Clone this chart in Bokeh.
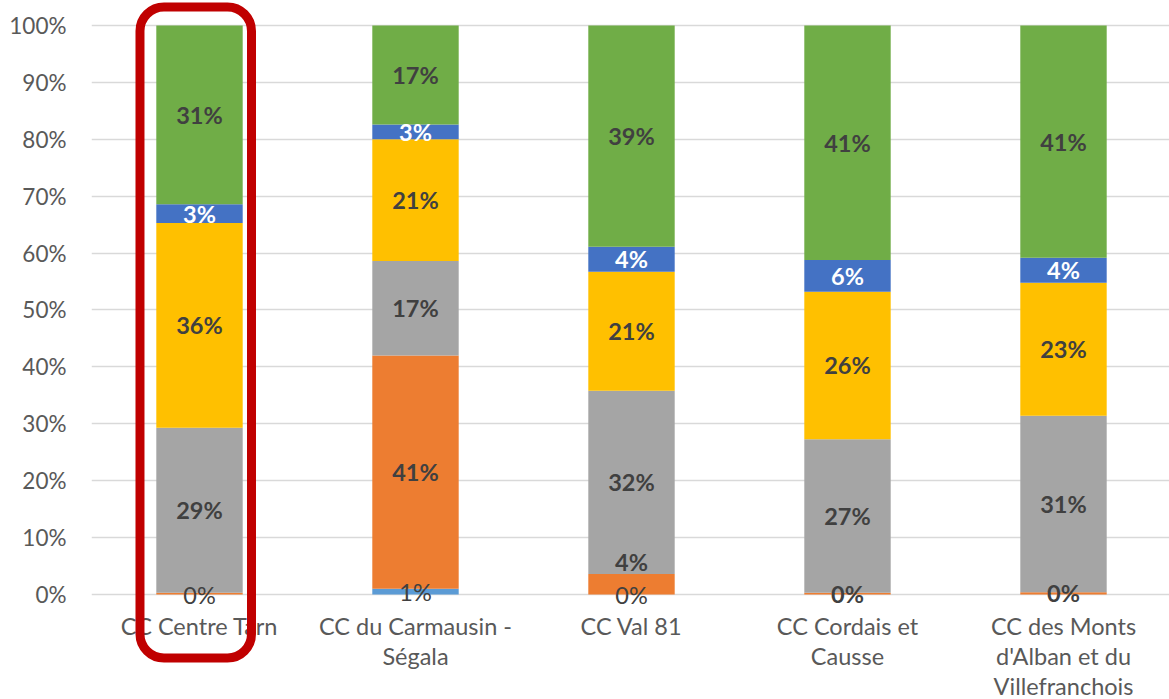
from bokeh.plotting import figure
from bokeh.models import ColumnDataSource, Range1d, FixedTicker, BoxAnnotation, PrintfTickFormatter
from bokeh.core.properties import value
from bokeh.embed import file_html
from bokeh.resources import INLINE

# ---------------- data ----------------
categories = [
    "CC Centre Tarn",
    "CC du Carmausin -\nSégala",
    "CC Val 81",
    "CC Cordais et\nCausse",
    "CC des Monts\nd'Alban et du\nVillefranchois",
]
series_names = ["Série 1", "Série 2", "Série 3", "Série 4", "Série 5", "Série 6"]
light_blue = [0.0, 1.0, 0.0, 0.0, 0.0]
orange = [0.3, 41.0, 3.6, 0.3, 0.4]
gray = [29.0, 16.6, 32.2, 27.0, 31.0]
yellow = [36.0, 21.4, 20.9, 25.9, 23.4]
blue = [3.3, 2.6, 4.4, 5.6, 4.4]
green = [31.4, 17.4, 38.9, 41.2, 40.8]
light_blue_labels = ["0%", "1%", "0%", "", ""]
orange_labels = ["", "41%", "4%", "0%", "0%"]
y_ticks = [0, 10, 20, 30, 40, 50, 60, 70, 80, 90, 100]
highlighted = "CC Centre Tarn"

colors = ["#5B9BD5", "#ED7D31", "#A5A5A5", "#FFC000", "#4472C4", "#70AD47"]
series = [light_blue, orange, gray, yellow, blue, green]

FONT = "Lato"
x_pos = [i + 0.5 for i in range(len(categories))]

data = {"x": x_pos}
for name, vals in zip(series_names, series):
    data[name] = vals
source = ColumnDataSource(data)

p = figure(width=1169, height=699, output_backend="svg", toolbar_location=None,
           x_range=Range1d(0, 1078 / 216), y_range=Range1d(-18.45, 104.39),
           min_border_left=91, min_border_right=0, min_border_top=0, min_border_bottom=0)
p.outline_line_color = None
p.background_fill_color = "white"
p.border_fill_color = "white"

p.vbar_stack(series_names, x="x", width=0.4, color=colors, source=source, line_width=0)

# y axis
ticker = FixedTicker(ticks=y_ticks)
p.yaxis.ticker = ticker
p.yaxis.formatter = PrintfTickFormatter(format="%d%%")
p.yaxis.axis_line_color = None
p.yaxis.major_tick_line_color = None
p.yaxis.minor_tick_line_color = None
p.yaxis.major_label_standoff = 19
p.yaxis.major_label_text_font = FONT
p.yaxis.major_label_text_font_size = "22.5px"
p.yaxis.major_label_text_color = "#595959"
p.ygrid.ticker = ticker
p.ygrid.grid_line_color = "#D9D9D9"
p.ygrid.grid_line_width = 1.3
p.xgrid.grid_line_color = None
p.xaxis.visible = False

# data labels (Excel nudged the small orange label of the third bar upwards)
orange_label_nudge = [0, 0, 4.0, 0, 0]
bottoms = [0.0] * len(categories)
for k, vals in enumerate(series):
    centers = [b + v / 2 for b, v in zip(bottoms, vals)]
    bottoms = [b + v for b, v in zip(bottoms, vals)]
    if k == 0:
        texts, style, col = light_blue_labels, "normal", "#404040"
    elif k == 1:
        texts, style, col = orange_labels, "bold", "#404040"
        centers = [c + n for c, n in zip(centers, orange_label_nudge)]
    else:
        texts = [f"{round(v)}%" for v in vals]
        style = "bold"
        col = "white" if k == 4 else "#404040"
    src = ColumnDataSource({"x": x_pos, "y": centers, "t": texts})
    p.text(x="x", y="y", text="t", source=src, text_align="center", text_baseline="middle",
           text_font=value(FONT), text_font_size="23.5px", text_font_style=style, text_color=col)

# category labels
cat_src = ColumnDataSource({"x": x_pos, "y": [-3.1] * len(categories), "t": categories})
p.text(x="x", y="y", text="t", source=cat_src, text_align="center", text_baseline="top",
       text_font=value(FONT), text_font_size="23.5px", text_color="#595959", text_line_height=1.06)

# highlight box
hi = categories.index(highlighted) + 0.5
p.add_layout(BoxAnnotation(left=hi - 0.2755, right=hi + 0.2407, top=103.25, bottom=-11.16,
                           fill_alpha=0, line_color="#C00000", line_alpha=1.0, line_width=9,
                           border_radius=24))

open("out.html", "w").write(file_html(p, INLINE))
